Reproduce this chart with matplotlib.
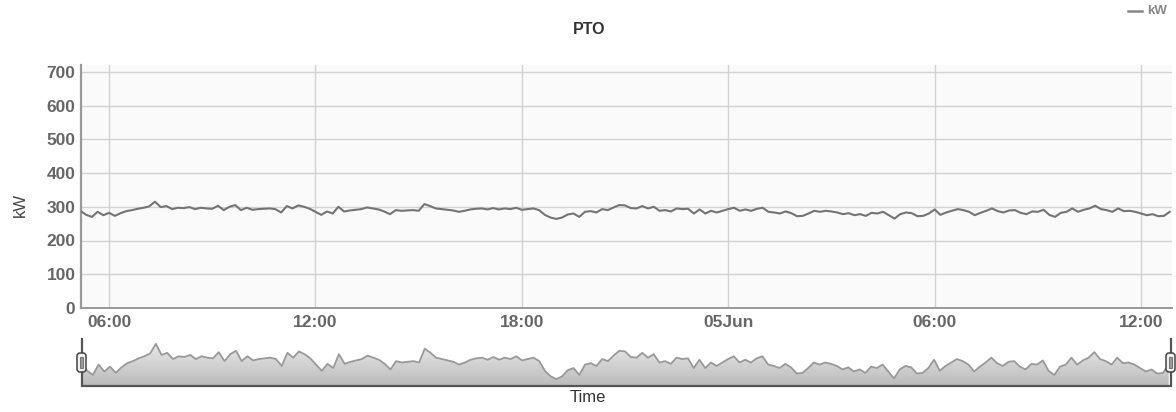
import numpy as np
import pandas as pd
import matplotlib
matplotlib.use("Agg")
import matplotlib.pyplot as plt
import matplotlib.dates as mdates
from matplotlib.ticker import FuncFormatter
from matplotlib.colors import LinearSegmentedColormap
from matplotlib.patches import FancyBboxPatch, Rectangle
from matplotlib.lines import Line2D

plt.rcParams['font.family'] = ['Liberation Sans', 'DejaVu Sans']

# ---------------- data ----------------
START = "2014-06-04 05:10"
STEP = "10min"
pto_kw = [
    288, 276, 270, 285, 275, 282, 273, 281, 287, 290,
    294, 297, 301, 315, 299, 302, 293, 297, 296, 299,
    293, 297, 295, 294, 303, 290, 300, 305, 290, 297,
    291, 293, 294, 295, 293, 283, 302, 295, 304,
    300, 294, 285, 276, 286, 280, 300, 286, 289, 291,
    293, 298, 295, 292, 286, 278, 290, 288, 289, 290,
    288, 308, 302, 295, 293, 291, 289, 285, 288, 292,
    294, 295, 292, 296, 292, 295, 293, 297,
    291, 293, 295, 290, 276, 268, 264, 268, 277, 280,
    270, 285, 287, 283, 293, 290, 298, 305, 304, 296,
    295, 302, 295, 300, 288, 290, 286, 295, 293, 294,
    280, 292, 280, 288, 283, 288, 293, 297, 288,
    292, 288, 294, 297, 285, 283, 280, 286, 281, 272,
    273, 280, 288, 285, 288, 286, 283, 278, 281, 275,
    278, 273, 282, 280, 285, 275, 265, 278, 283, 281,
    272, 273, 280, 292, 276, 283, 288, 293,
    290, 285, 275, 282, 288, 295, 287, 283, 289, 290,
    282, 278, 286, 285, 291, 276, 270, 282, 285, 295,
    285, 291, 295, 303, 293, 290, 285, 295, 287, 288,
    285, 280, 275, 278, 272, 273, 285,
]
X_START = "2014-06-04 05:11"
X_END = "2014-06-05 12:54"
Y_TICKS = [0, 100, 200, 300, 400, 500, 600, 700]
Y_MAX = 720
NAV_YLIM = (254, 322)
TITLE = "PTO"
Y_LABEL = "kW"
X_LABEL = "Time"
SERIES_NAME = "kW"

times = pd.date_range(START, periods=len(pto_kw), freq=STEP)
x0, x1 = pd.Timestamp(X_START), pd.Timestamp(X_END)

# ---------------- figure ----------------
W, H = 1176, 412
fig = plt.figure(figsize=(W / 100, H / 100), dpi=100)


def box(l, t, r, b):
    return [l / W, 1 - b / H, (r - l) / W, (b - t) / H]


# main chart
ax = fig.add_axes(box(81, 65, 1172, 308))
ax.set_facecolor('#fafafa')
ax.plot(times, pto_kw, color='#747474', lw=1.5, solid_joinstyle='round', zorder=3)
ax.set_ylim(0, Y_MAX)
ax.set_yticks(Y_TICKS)
ax.set_xlim(x0, x1)
ax.xaxis.set_major_locator(mdates.HourLocator(byhour=[0, 6, 12, 18]))


def fmt(x, pos):
    d = mdates.num2date(x)
    return d.strftime('%d%b') if d.hour == 0 else d.strftime('%H:%M')


ax.xaxis.set_major_formatter(FuncFormatter(fmt))
ax.grid(True, color='#d2d2d2', lw=1.0, zorder=0)
ax.tick_params(axis='both', length=0, labelsize=12.5, labelcolor='#666666')
ax.tick_params(axis='y', pad=4)
ax.tick_params(axis='x', pad=5)
for lab in ax.get_xticklabels() + ax.get_yticklabels():
    lab.set_fontweight('bold')
for s in ['top', 'right']:
    ax.spines[s].set_visible(False)
ax.spines['left'].set_color('#999999')
ax.spines['left'].set_linewidth(1.6)
ax.spines['bottom'].set_color('#999999')
ax.spines['bottom'].set_linewidth(1.4)

fig.text(589 / W, 1 - 30 / H, TITLE, ha='center', va='center', fontsize=11.5,
         fontweight='bold', color='#333333')
fig.text(20 / W, 1 - 205 / H, Y_LABEL, ha='center', va='center', rotation=90,
         fontsize=12, color='#444444')
fig.text(588 / W, 1 - 398 / H, X_LABEL, ha='center', va='center',
         fontsize=12, color='#333333')

# legend
fig.add_artist(Line2D([1128 / W, 1142 / W], [1 - 11 / H, 1 - 11 / H],
                      color='#888888', lw=1.8))
fig.text(1147 / W, 1 - 11 / H, SERIES_NAME, ha='left', va='center',
         fontsize=9.5, fontweight='bold', color='#888888')

# navigator
nav = fig.add_axes(box(82, 339, 1171, 386))
nav.set_xlim(x0, x1)
nav.set_ylim(*NAV_YLIM)
poly = nav.fill_between(times, pto_kw, NAV_YLIM[0], color='none', lw=0)
cmap = LinearSegmentedColormap.from_list('nav', ['#ededed', '#bbbbbb'])
grad = np.linspace(0, 1, 256).reshape(-1, 1)
im = nav.imshow(grad, extent=[mdates.date2num(x0), mdates.date2num(x1),
                              NAV_YLIM[0], NAV_YLIM[1]],
                aspect='auto', cmap=cmap, origin='upper', zorder=1)
im.set_clip_path(poly.get_paths()[0], nav.transData)
nav.plot(times, pto_kw, color='#999999', lw=1.3, zorder=2)
nav.axis('off')

# overlay for navigator outline + handles (pixel coords)
ov = fig.add_axes([0, 0, 1, 1])
ov.set_xlim(0, W)
ov.set_ylim(H, 0)
ov.axis('off')
ov.plot([82, 82, 1171, 1171], [339, 386, 386, 339], color='#555555', lw=1.6,
        solid_joinstyle='miter')
for hx in (81.5, 1170.5):
    ov.add_patch(FancyBboxPatch((hx - 4.5, 353), 9, 19,
                                boxstyle='round,pad=0,rounding_size=3',
                                fc='#f0f0f0', ec='#444444', lw=1.1, zorder=5))
    ov.add_patch(Rectangle((hx - 1.5, 357), 3, 11, fc='#999999', ec='#666666',
                           lw=0.6, zorder=6))

fig.savefig('out.png', dpi=100)
